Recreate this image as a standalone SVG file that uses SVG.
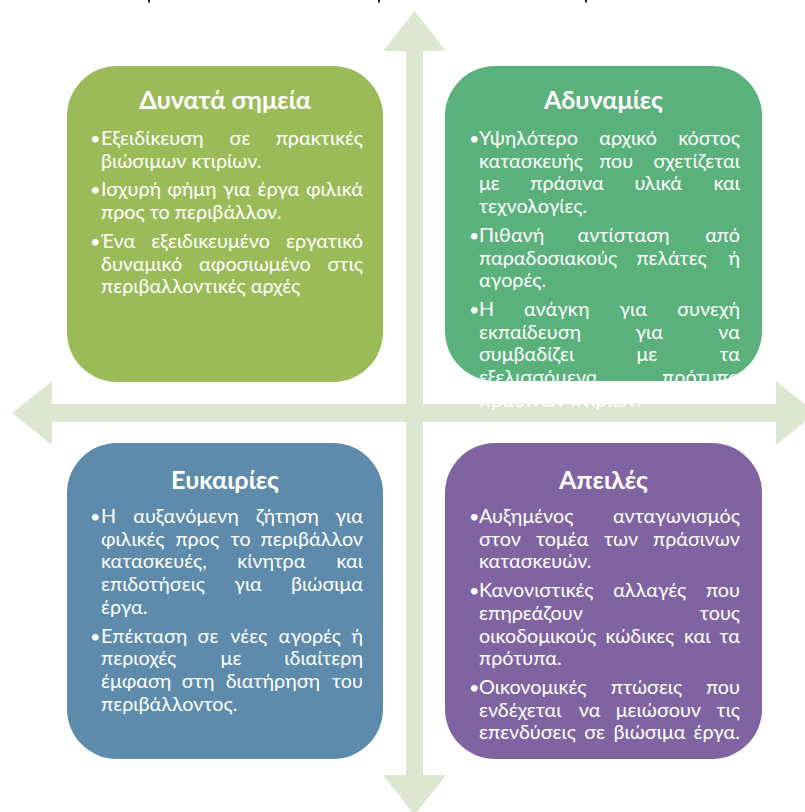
<svg xmlns="http://www.w3.org/2000/svg" width="805" height="812" viewBox="0 0 805 812">
<style>
.ax{fill:#DDE6D0}
.box{stroke:none}
text{font-family:Lato,"Open Sans","Noto Sans",sans-serif;font-size:19.8px;fill:#fff}
.h{font-weight:bold;font-size:25.2px;text-anchor:middle}
.b{font-size:18px}
.m{text-anchor:middle}
.e{text-anchor:end}
.mk{fill:#222}
</style>
<rect width="805" height="812" fill="#fff"/>
<g id="title-fragments">
<rect class="mk" x="148" y="0" width="2" height="2.5"/>
<rect class="mk" x="378" y="0" width="2" height="2.5"/>
<rect class="mk" x="585" y="0" width="2" height="2.5"/>
</g>
<g id="connectors">
<path class="ax" d="M414.5,11 L446,51 L423,51 L423,775 L446,775 L414.5,815 L383,775 L406,775 L406,51 L383,51 Z"/>
<path class="ax" d="M12,413 L52,381 L52,404 L776,404 L776,381 L816,413 L776,445 L776,422 L52,422 L52,445 Z"/>
</g>
<g id="strengths">
<rect class="box" x="67" y="66" width="316" height="316" rx="50" fill="#9BBB59"/>
<text class="h" x="225" y="109">Δυνατά σημεία</text>
<text class="b" x="90" y="145">•</text>
<text y="145"><tspan x="101">Εξειδίκευση</tspan><tspan class="m" x="240">σε</tspan><tspan class="e" x="363">πρακτικές</tspan></text>
<text x="101" y="167.7">βιώσιμων κτιρίων.</text>
<text class="b" x="90" y="196.4">•</text>
<text y="196.4"><tspan x="101">Ισχυρή</tspan><tspan class="m" x="191.9">φήμη</tspan><tspan class="m" x="236.7">για</tspan><tspan class="m" x="278.4">έργα</tspan><tspan class="e" x="363">φιλικά</tspan></text>
<text x="101" y="219.1">προς το περιβάλλον.</text>
<text class="b" x="90" y="247.8">•</text>
<text y="247.8"><tspan x="101">Ένα</tspan><tspan class="m" x="210.6">εξειδικευμένο</tspan><tspan class="e" x="363">εργατικό</tspan></text>
<text y="270.5"><tspan x="101">δυναμικό</tspan><tspan class="m" x="254.9">αφοσιωμένο</tspan><tspan class="e" x="363">στις</tspan></text>
<text x="101" y="293.2">περιβαλλοντικές αρχές</text>
</g>
<g id="weaknesses">
<rect class="box" x="445" y="66" width="317" height="315" rx="50" fill="#5BB17C"/>
<text class="h" x="603.5" y="109">Αδυναμίες</text>
<text class="b" x="469" y="145">•</text>
<text y="145"><tspan x="479">Υψηλότερο</tspan><tspan class="m" x="628.1">αρχικό</tspan><tspan class="e" x="740">κόστος</tspan></text>
<text y="167.7"><tspan x="479">κατασκευής</tspan><tspan class="m" x="616.2">που</tspan><tspan class="e" x="740">σχετίζεται</tspan></text>
<text y="190.4"><tspan x="479">με</tspan><tspan class="m" x="567">πράσινα</tspan><tspan class="m" x="658.2">υλικά</tspan><tspan class="e" x="740">και</tspan></text>
<text x="479" y="213.1">τεχνολογίες.</text>
<text class="b" x="469" y="241.8">•</text>
<text y="241.8"><tspan x="479">Πιθανή</tspan><tspan class="m" x="623.6">αντίσταση</tspan><tspan class="e" x="740">από</tspan></text>
<text y="264.5"><tspan x="479">παραδοσιακούς</tspan><tspan class="m" x="671.5">πελάτες</tspan><tspan class="e" x="740">ή</tspan></text>
<text x="479" y="287.2">αγορές.</text>
<text class="b" x="469" y="315.9">•</text>
<text y="315.9"><tspan x="479">Η</tspan><tspan class="m" x="556.7">ανάγκη</tspan><tspan class="m" x="633.1">για</tspan><tspan class="e" x="740">συνεχή</tspan></text>
<text y="338.6"><tspan x="479">εκπαίδευση</tspan><tspan class="m" x="649.1">για</tspan><tspan class="e" x="740">να</tspan></text>
<text y="361.3"><tspan x="479">συμβαδίζει</tspan><tspan class="m" x="646.8">με</tspan><tspan class="e" x="740">τα</tspan></text>
<text y="384"><tspan x="479">εξελισσόμενα</tspan><tspan class="e" x="740">πρότυπα</tspan></text>
<text x="479" y="406.7">πράσινων κτιρίων.</text>
</g>
<g id="opportunities">
<rect class="box" x="67" y="443" width="316" height="316" rx="50" fill="#5E8BAB"/>
<text class="h" x="225" y="489">Ευκαιρίες</text>
<text class="b" x="90" y="523">•</text>
<text y="523"><tspan x="101">Η</tspan><tspan class="m" x="186">αυξανόμενη</tspan><tspan class="m" x="287.3">ζήτηση</tspan><tspan class="e" x="363">για</tspan></text>
<text y="545.7"><tspan x="101">φιλικές</tspan><tspan class="m" x="197.3">προς</tspan><tspan class="m" x="240.6">το</tspan><tspan class="e" x="363">περιβάλλον</tspan></text>
<text y="568.4"><tspan x="101">κατασκευές,</tspan><tspan class="m" x="271.4">κίνητρα</tspan><tspan class="e" x="363">και</tspan></text>
<text y="591.1"><tspan x="101">επιδοτήσεις</tspan><tspan class="m" x="248">για</tspan><tspan class="e" x="363">βιώσιμα</tspan></text>
<text x="101" y="613.8">έργα.</text>
<text class="b" x="90" y="642.5">•</text>
<text y="642.5"><tspan x="101">Επέκταση</tspan><tspan class="m" x="208">σε</tspan><tspan class="m" x="248.8">νέες</tspan><tspan class="m" x="309.8">αγορές</tspan><tspan class="e" x="363">ή</tspan></text>
<text y="665.2"><tspan x="101">περιοχές</tspan><tspan class="m" x="231">με</tspan><tspan class="e" x="363">ιδιαίτερη</tspan></text>
<text y="687.9"><tspan x="101">έμφαση</tspan><tspan class="m" x="198.1">στη</tspan><tspan class="m" x="272.9">διατήρηση</tspan><tspan class="e" x="363">του</tspan></text>
<text x="101" y="710.6">περιβάλλοντος.</text>
</g>
<g id="threats">
<rect class="box" x="445" y="443" width="317" height="316" rx="50" fill="#8064A2"/>
<text class="h" x="603.5" y="489">Απειλές</text>
<text class="b" x="469" y="523">•</text>
<text y="523"><tspan x="479">Αυξημένος</tspan><tspan class="e" x="740">ανταγωνισμός</tspan></text>
<text y="545.7"><tspan x="479">στον</tspan><tspan class="m" x="562.2">τομέα</tspan><tspan class="m" x="621.1">των</tspan><tspan class="e" x="740">πράσινων</tspan></text>
<text x="479" y="568.4">κατασκευών.</text>
<text class="b" x="469" y="597.1">•</text>
<text y="597.1"><tspan x="479">Κανονιστικές</tspan><tspan class="m" x="649.8">αλλαγές</tspan><tspan class="e" x="740">που</tspan></text>
<text y="619.8"><tspan x="479">επηρεάζουν</tspan><tspan class="e" x="740">τους</tspan></text>
<text y="642.5"><tspan x="479">οικοδομικούς</tspan><tspan class="m" x="639.9">κώδικες</tspan><tspan class="m" x="697.2">και</tspan><tspan class="e" x="740">τα</tspan></text>
<text x="479" y="665.2">πρότυπα.</text>
<text class="b" x="469" y="693.9">•</text>
<text y="693.9"><tspan x="479">Οικονομικές</tspan><tspan class="m" x="646.5">πτώσεις</tspan><tspan class="e" x="740">που</tspan></text>
<text y="716.6"><tspan x="479">ενδέχεται</tspan><tspan class="m" x="589.7">να</tspan><tspan class="m" x="658.4">μειώσουν</tspan><tspan class="e" x="740">τις</tspan></text>
<text y="739.3"><tspan x="479">επενδύσεις</tspan><tspan class="m" x="594.6">σε</tspan><tspan class="m" x="649.4">βιώσιμα</tspan><tspan class="e" x="740">έργα.</tspan></text>
</g>
</svg>
